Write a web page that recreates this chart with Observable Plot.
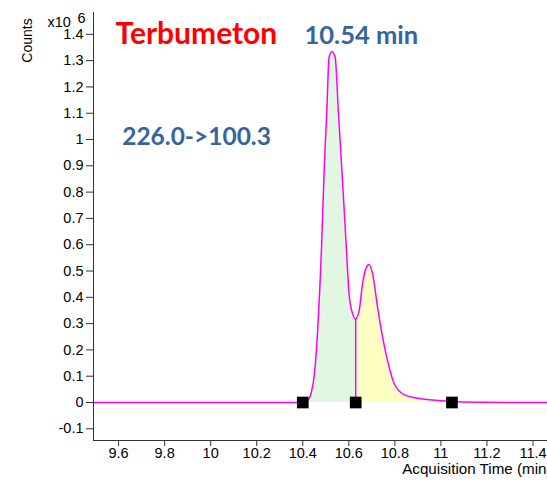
<!DOCTYPE html>
<html>
<head>
<meta charset="utf-8">
<script src="https://cdn.jsdelivr.net/npm/d3@7"></script>
<script src="https://cdn.jsdelivr.net/npm/@observablehq/plot@0.6"></script>
<style>
  html, body { margin: 0; padding: 0; background: white; overflow: hidden; width: 547px; height: 480px; }
  #chart svg { max-width: none !important; }
</style>
</head>
<body>
<div id="chart"></div>
<script>
// Acquisition time (min)
const times = [9.49, 10.0, 10.38, 10.41, 10.427, 10.44, 10.449, 10.457, 10.464, 10.475, 10.481, 10.493, 10.505, 10.514, 10.527, 10.541, 10.555, 10.570, 10.590, 10.601, 10.616, 10.630, 10.645, 10.660, 10.678, 10.688, 10.703, 10.725, 10.747, 10.768, 10.797, 10.840, 10.913, 11.030, 11.048, 11.174, 11.3, 11.55];
// Counts (x10^6)
const counts = [0, 0, 0, 0.003, 0.014, 0.05, 0.096, 0.17, 0.262, 0.453, 0.578, 0.882, 1.12, 1.311, 1.335, 1.311, 1.10, 0.882, 0.578, 0.415, 0.339, 0.318, 0.350, 0.453, 0.517, 0.525, 0.491, 0.362, 0.248, 0.160, 0.072, 0.030, 0.014, 0.005, 0.004, 0.001, 0, 0];
// Integration markers
const markerTimes = [10.40, 10.63, 11.048];
const dropTime = 10.63;
const dropHeight = 0.318;
const xTicks = [9.6, 9.8, 10, 10.2, 10.4, 10.6, 10.8, 11, 11.2, 11.4];
const yTicks = [-0.1, 0, 0.1, 0.2, 0.3, 0.4, 0.5, 0.6, 0.7, 0.8, 0.9, 1, 1.1, 1.2, 1.3, 1.4];
const compound = "Terbumeton";
const rtLabel = "10.54 min";
const transition = "226.0->100.3";

const data = times.map((t, i) => ({t, c: counts[i]}));
const green = data.filter(d => d.t >= markerTimes[0] - 0.02 && d.t <= markerTimes[1]);
const yellow = data.filter(d => d.t >= markerTimes[1] && d.t <= markerTimes[2]);

const magenta = "#ff00ff";
const blue = "#35659c";
const titleFont = "Lato, 'Open Sans', sans-serif";

const chart = Plot.plot({
  width: 570,
  height: 480,
  marginLeft: 93,
  marginRight: 3,
  marginTop: 12,
  marginBottom: 40,
  x: {domain: [9.491, 11.55]},
  y: {domain: [-0.1445, 1.483]},
  style: {fontFamily: "'Liberation Sans', Arial, sans-serif", fontSize: "14px", color: "black", background: "white", maxWidth: "none"},
  marks: [
    Plot.areaY(green, {x: "t", y: "c", fill: "#e2f7e2", curve: "monotone-x"}),
    Plot.areaY(yellow, {x: "t", y: "c", fill: "#ffffc4", curve: "monotone-x"}),
    Plot.line(data, {x: "t", y: "c", stroke: magenta, strokeWidth: 1.5, curve: "monotone-x"}),
    Plot.ruleX([dropTime], {y1: 0, y2: dropHeight, stroke: magenta, strokeWidth: 1.5}),
    Plot.dot(markerTimes, {x: d => d, y: 0, symbol: "square", r: 6.6, fill: "black", stroke: "none"}),
    Plot.frame({anchor: "left", stroke: "#333"}),
    Plot.frame({anchor: "bottom", stroke: "#333"}),
    Plot.axisY({ticks: yTicks, tickSize: 7, tickPadding: 3, tickFormat: d => String(d), label: null, stroke: "#333", fontSize: 14.5}),
    Plot.axisX({ticks: xTicks, tickSize: 6, tickPadding: 1, tickFormat: d => String(d), label: null, stroke: "#333", fontSize: 14.5}),
    Plot.text(["Acquisition Time (min)"], {frameAnchor: "bottom-left", dx: 308.7, dy: 22.7, textAnchor: "start", lineAnchor: "top", fontSize: 15.2}),
    Plot.text(["Counts"], {frameAnchor: "top-left", dx: -66, dy: 28, rotate: -90, textAnchor: "middle", lineAnchor: "middle", fontSize: 14}),
    Plot.text(["x10"], {frameAnchor: "top-left", dx: -46, dy: 4, textAnchor: "start", lineAnchor: "top", fontSize: 14.5}),
    Plot.text(["6"], {frameAnchor: "top-left", dx: -16, dy: 0.5, textAnchor: "start", lineAnchor: "top", fontSize: 14.5}),
    Plot.text([compound], {frameAnchor: "top-left", dx: 22, dy: 9.7, textAnchor: "start", lineAnchor: "top", fontSize: 30, fontWeight: "bold", fill: "#ff0000", fontFamily: titleFont}),
    Plot.text([rtLabel], {frameAnchor: "top-left", dx: 211, dy: 13, textAnchor: "start", lineAnchor: "top", fontSize: 25.5, fontWeight: "bold", fill: blue, fontFamily: titleFont}),
    Plot.text([transition], {frameAnchor: "top-left", dx: 28.7, dy: 115.3, textAnchor: "start", lineAnchor: "top", fontSize: 24.5, fontWeight: "bold", fill: blue, fontFamily: titleFont})
  ]
});
chart.style.maxWidth = "none";
document.getElementById("chart").appendChild(chart);
</script>
</body>
</html>
